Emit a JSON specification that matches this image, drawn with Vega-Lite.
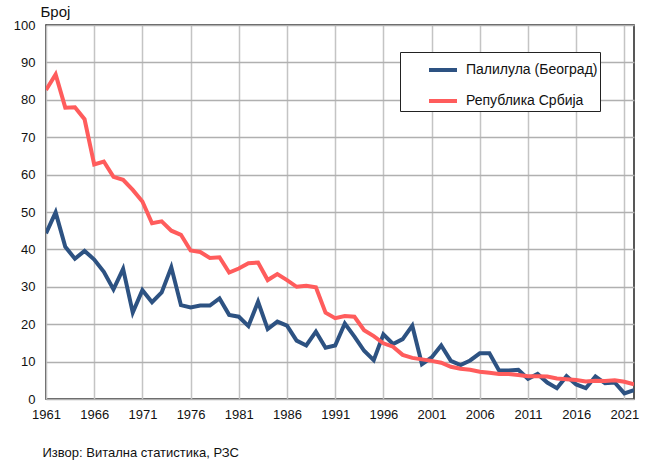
{
  "$schema": "https://vega.github.io/schema/vega-lite/v6.json",
  "width": 588,
  "height": 374,
  "autosize": "none",
  "padding": {"left": 46, "top": 25, "right": 16, "bottom": 69},
  "background": "white",
  "config": {
    "font": "Liberation Sans",
    "view": {"stroke": "#222222", "strokeWidth": 1.5},
    "axis": {"labelFont": "Liberation Sans", "titleFont": "Liberation Sans", "labelColor": "#111111", "titleColor": "#111111"}
  },
  "data": {
    "values": [
      {"year":1961,"s":"Палилула (Београд)","v":44.3},{"year":1962,"s":"Палилула (Београд)","v":49.9},{"year":1963,"s":"Палилула (Београд)","v":40.7},{"year":1964,"s":"Палилула (Београд)","v":37.5},{"year":1965,"s":"Палилула (Београд)","v":39.6},{"year":1966,"s":"Палилула (Београд)","v":37.3},{"year":1967,"s":"Палилула (Београд)","v":34.0},{"year":1968,"s":"Палилула (Београд)","v":29.3},{"year":1969,"s":"Палилула (Београд)","v":34.8},{"year":1970,"s":"Палилула (Београд)","v":23.1},
      {"year":1971,"s":"Палилула (Београд)","v":29.1},{"year":1972,"s":"Палилула (Београд)","v":25.9},{"year":1973,"s":"Палилула (Београд)","v":28.5},{"year":1974,"s":"Палилула (Београд)","v":35.2},{"year":1975,"s":"Палилула (Београд)","v":25.1},{"year":1976,"s":"Палилула (Београд)","v":24.5},{"year":1977,"s":"Палилула (Београд)","v":25.0},{"year":1978,"s":"Палилула (Београд)","v":25.0},{"year":1979,"s":"Палилула (Београд)","v":26.9},{"year":1980,"s":"Палилула (Београд)","v":22.5},
      {"year":1981,"s":"Палилула (Београд)","v":22.0},{"year":1982,"s":"Палилула (Београд)","v":19.5},{"year":1983,"s":"Палилула (Београд)","v":26.0},{"year":1984,"s":"Палилула (Београд)","v":18.7},{"year":1985,"s":"Палилула (Београд)","v":20.7},{"year":1986,"s":"Палилула (Београд)","v":19.6},{"year":1987,"s":"Палилула (Београд)","v":15.6},{"year":1988,"s":"Палилула (Београд)","v":14.3},{"year":1989,"s":"Палилула (Београд)","v":18.0},{"year":1990,"s":"Палилула (Београд)","v":13.7},
      {"year":1991,"s":"Палилула (Београд)","v":14.3},{"year":1992,"s":"Палилула (Београд)","v":20.2},{"year":1993,"s":"Палилула (Београд)","v":16.7},{"year":1994,"s":"Палилула (Београд)","v":12.9},{"year":1995,"s":"Палилула (Београд)","v":10.4},{"year":1996,"s":"Палилула (Београд)","v":17.3},{"year":1997,"s":"Палилула (Београд)","v":14.7},{"year":1998,"s":"Палилула (Београд)","v":16.0},{"year":1999,"s":"Палилула (Београд)","v":19.6},{"year":2000,"s":"Палилула (Београд)","v":9.3},
      {"year":2001,"s":"Палилула (Београд)","v":11.1},{"year":2002,"s":"Палилула (Београд)","v":14.3},{"year":2003,"s":"Палилула (Београд)","v":10.2},{"year":2004,"s":"Палилула (Београд)","v":9.1},{"year":2005,"s":"Палилула (Београд)","v":10.3},{"year":2006,"s":"Палилула (Београд)","v":12.2},{"year":2007,"s":"Палилула (Београд)","v":12.2},{"year":2008,"s":"Палилула (Београд)","v":7.6},{"year":2009,"s":"Палилула (Београд)","v":7.6},{"year":2010,"s":"Палилула (Београд)","v":7.8},
      {"year":2011,"s":"Палилула (Београд)","v":5.4},{"year":2012,"s":"Палилула (Београд)","v":6.7},{"year":2013,"s":"Палилула (Београд)","v":4.4},{"year":2014,"s":"Палилула (Београд)","v":2.9},{"year":2015,"s":"Палилула (Београд)","v":6.1},{"year":2016,"s":"Палилула (Београд)","v":3.9},{"year":2017,"s":"Палилула (Београд)","v":2.9},{"year":2018,"s":"Палилула (Београд)","v":6.0},{"year":2019,"s":"Палилула (Београд)","v":4.2},{"year":2020,"s":"Палилула (Београд)","v":4.4},
      {"year":2021,"s":"Палилула (Београд)","v":1.5},{"year":2022,"s":"Палилула (Београд)","v":2.4},
      {"year":1961,"s":"Република Србија","v":82.6},{"year":1962,"s":"Република Србија","v":86.8},{"year":1963,"s":"Република Србија","v":77.9},{"year":1964,"s":"Република Србија","v":78.0},{"year":1965,"s":"Република Србија","v":74.8},{"year":1966,"s":"Република Србија","v":62.7},{"year":1967,"s":"Република Србија","v":63.5},{"year":1968,"s":"Република Србија","v":59.4},{"year":1969,"s":"Република Србија","v":58.6},{"year":1970,"s":"Република Србија","v":55.9},
      {"year":1971,"s":"Република Србија","v":52.8},{"year":1972,"s":"Република Србија","v":47.0},{"year":1973,"s":"Република Србија","v":47.5},{"year":1974,"s":"Република Србија","v":45.0},{"year":1975,"s":"Република Србија","v":43.9},{"year":1976,"s":"Република Србија","v":39.7},{"year":1977,"s":"Република Србија","v":39.3},{"year":1978,"s":"Република Србија","v":37.7},{"year":1979,"s":"Република Србија","v":37.9},{"year":1980,"s":"Република Србија","v":33.8},
      {"year":1981,"s":"Република Србија","v":34.9},{"year":1982,"s":"Република Србија","v":36.3},{"year":1983,"s":"Република Србија","v":36.5},{"year":1984,"s":"Република Србија","v":31.8},{"year":1985,"s":"Република Србија","v":33.4},{"year":1986,"s":"Република Србија","v":31.8},{"year":1987,"s":"Република Србија","v":30.0},{"year":1988,"s":"Република Србија","v":30.3},{"year":1989,"s":"Република Србија","v":29.9},{"year":1990,"s":"Република Србија","v":23.1},
      {"year":1991,"s":"Република Србија","v":21.6},{"year":1992,"s":"Република Србија","v":22.2},{"year":1993,"s":"Република Србија","v":22.0},{"year":1994,"s":"Република Србија","v":18.4},{"year":1995,"s":"Република Србија","v":16.8},{"year":1996,"s":"Република Србија","v":14.9},{"year":1997,"s":"Република Србија","v":14.0},{"year":1998,"s":"Република Србија","v":11.8},{"year":1999,"s":"Република Србија","v":11.0},{"year":2000,"s":"Република Србија","v":10.6},
      {"year":2001,"s":"Република Србија","v":10.2},{"year":2002,"s":"Република Србија","v":9.7},{"year":2003,"s":"Република Србија","v":8.6},{"year":2004,"s":"Република Србија","v":8.1},{"year":2005,"s":"Република Србија","v":7.8},{"year":2006,"s":"Република Србија","v":7.3},{"year":2007,"s":"Република Србија","v":7.0},{"year":2008,"s":"Република Србија","v":6.7},{"year":2009,"s":"Република Србија","v":6.7},{"year":2010,"s":"Република Србија","v":6.4},
      {"year":2011,"s":"Република Србија","v":6.1},{"year":2012,"s":"Република Србија","v":6.1},{"year":2013,"s":"Република Србија","v":6.0},{"year":2014,"s":"Република Србија","v":5.5},{"year":2015,"s":"Република Србија","v":5.3},{"year":2016,"s":"Република Србија","v":5.1},{"year":2017,"s":"Република Србија","v":4.7},{"year":2018,"s":"Република Србија","v":4.9},{"year":2019,"s":"Република Србија","v":4.8},{"year":2020,"s":"Република Србија","v":5.0},
      {"year":2021,"s":"Република Србија","v":4.6},{"year":2022,"s":"Република Србија","v":3.9}
    ]
  },
  "mark": {"type": "line", "strokeWidth": 4, "strokeJoin": "miter", "clip": true},
  "encoding": {
    "x": {
      "field": "year", "type": "quantitative",
      "scale": {"domain": [1961, 2022], "nice": false, "zero": false},
      "axis": {
        "values": [1961,1966,1971,1976,1981,1986,1991,1996,2001,2006,2011,2016,2021],
        "format": "d", "labelFontSize": 13, "labelPadding": 9, "ticks": false,
        "domain": false, "labelFlush": false,
        "grid": true, "gridColor": "#c4c4c4", "gridWidth": 1.5,
        "title": "Извор: Витална статистика, РЗС", "titleFontSize": 13, "titleFontWeight": "normal",
        "titleAnchor": "start", "titleAlign": "left", "titleBaseline": "top", "titleX": -4, "titleY": 47
      }
    },
    "y": {
      "field": "v", "type": "quantitative",
      "scale": {"domain": [0, 100], "nice": false},
      "axis": {
        "values": [0,10,20,30,40,50,60,70,80,90,100],
        "labelFontSize": 13, "labelPadding": 11, "ticks": false, "domain": false,
        "grid": true, "gridColor": "#b0b0b0", "gridWidth": 1.5,
        "title": "Број", "titleFontSize": 15, "titleFontWeight": "normal",
        "titleAngle": 0, "titleAlign": "left", "titleBaseline": "alphabetic",
        "titleX": -6, "titleY": -9
      }
    },
    "color": {
      "field": "s", "type": "nominal",
      "scale": {"domain": ["Палилула (Београд)", "Република Србија"], "range": ["#2d5282", "#ff5c5c"]},
      "legend": {
        "orient": "none", "legendX": 354, "legendY": 27,
        "title": null, "symbolType": "stroke", "symbolStrokeWidth": 4, "symbolSize": 784,
        "labelFontSize": 14, "labelColor": "#111111", "rowPadding": 7, "labelLimit": 400,
        "strokeColor": "#222222", "fillColor": "white", "padding": 2,
        "symbolOffset": 25, "labelOffset": 7,
        "labelExpr": "datum.label + '\u2007\u2007\u2007'"
      }
    }
  }
}
